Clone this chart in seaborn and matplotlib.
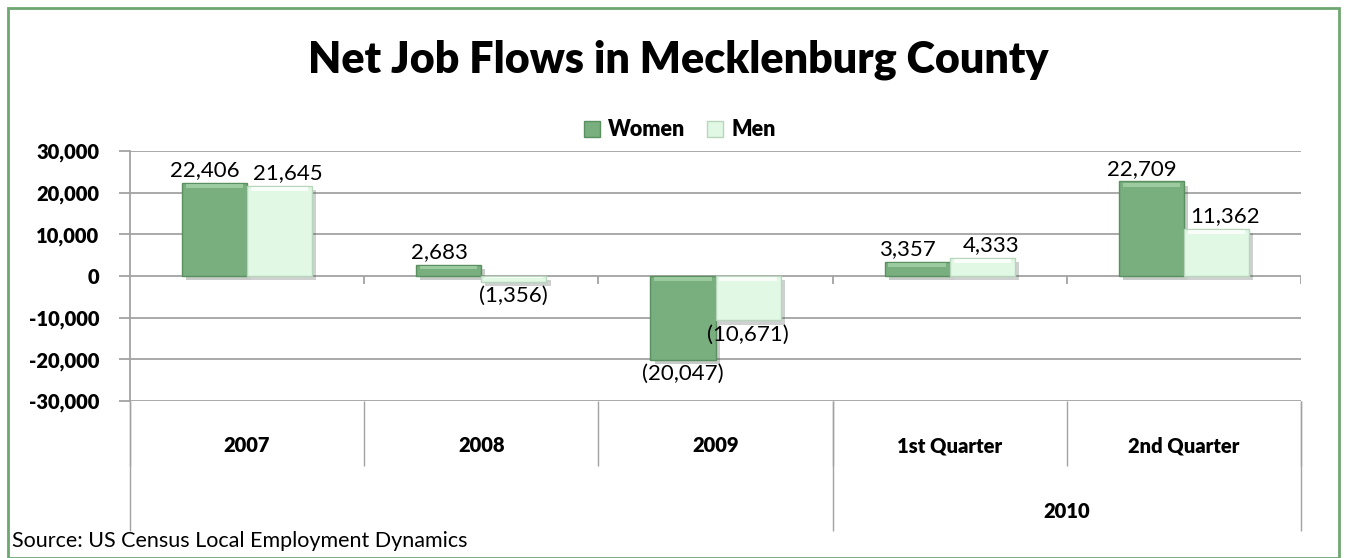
import matplotlib
matplotlib.use("Agg")
import matplotlib.pyplot as plt
import matplotlib.patheffects as pe
from matplotlib.patches import Rectangle
from matplotlib.ticker import FuncFormatter
import pandas as pd
import seaborn as sns

# ------------------------------------------------------------------
# Data
# ------------------------------------------------------------------
periods = ["2007", "2008", "2009", "1st Quarter", "2nd Quarter"]
women = [22406, 2683, -20047, 3357, 22709]
men = [21645, -1356, -10671, 4333, 11362]
series_names = ["Women", "Men"]
group_label = "2010"
group_members = ["1st Quarter", "2nd Quarter"]
y_ticks = [-30000, -20000, -10000, 0, 10000, 20000, 30000]

title = "Net Job Flows in Mecklenburg County"
source = "Source: US Census Local Employment Dynamics"

df = pd.DataFrame({
    "Period": periods * 2,
    "Gender": ["Women"] * len(periods) + ["Men"] * len(periods),
    "Flow": women + men,
})

colors = {"Women": "#79ae7e", "Men": "#e0f8e4"}
edges = {"Women": "#5a8f60", "Men": "#b8d6bc"}
highlights = {"Women": "#a6d3a9", "Men": "#ffffff"}
# small sideways nudge for positive labels so neighbours don't collide
nudge = {"Women": -7, "Men": 6}

sns.set_theme(style="white")
plt.rcParams["font.family"] = ["Lato", "DejaVu Sans"]
plt.rcParams["text.color"] = "black"
plt.rcParams["ytick.color"] = "black"

W, H = 1347, 558
fig = plt.figure(figsize=(W / 100, H / 100), dpi=100)
fig.patch.set_facecolor("white")
ax = fig.add_axes([130 / W, 1 - 401 / H, (1301 - 130) / W, 250 / H])

sns.barplot(data=df, x="Period", y="Flow", hue="Gender", order=periods,
            hue_order=series_names, palette=colors, width=0.556,
            saturation=1, errorbar=None, ax=ax)
if ax.get_legend() is not None:
    ax.get_legend().remove()

ax.set_xlim(-0.5, len(periods) - 0.5)
ax.set_ylim(y_ticks[0], y_ticks[-1])

# ------------------------------------------------------------------
# Bar styling + data labels
# ------------------------------------------------------------------
band = 1300
for cont, name in zip(ax.containers, series_names):
    vals = df[df["Gender"] == name].set_index("Period").loc[periods, "Flow"].values
    for bar, v in zip(cont, vals):
        bar.set_edgecolor(edges[name])
        bar.set_linewidth(1.0)
        bar.set_path_effects([pe.SimplePatchShadow(offset=(3, -3), alpha=0.25),
                              pe.Normal()])
        x0, w = bar.get_x(), bar.get_width()
        top = max(v, 0)
        bh = min(band, abs(v) * 0.4)
        ax.add_patch(Rectangle((x0 + w * 0.06, top - bh), w * 0.88, bh * 0.75,
                               facecolor=highlights[name], edgecolor="none",
                               alpha=0.8, zorder=bar.get_zorder() + 0.1))
        xc = x0 + w / 2
        if v >= 0:
            ax.annotate(f"{v:,}", (xc, v), xytext=(nudge[name], 2), textcoords="offset points",
                        ha="center", va="bottom", fontsize=16, color="black")
        else:
            ax.annotate(f"({-v:,})", (xc, v), xytext=(0, -3), textcoords="offset points",
                        ha="center", va="top", fontsize=16, color="black")

# ------------------------------------------------------------------
# Axes, grid, ticks
# ------------------------------------------------------------------
grid_c = "#a3a3a3"
ax.set_yticks(y_ticks)
ax.yaxis.set_major_formatter(FuncFormatter(lambda v, p: f"{int(v):,}"))
ax.yaxis.grid(True, color=grid_c, linewidth=1.3)
ax.set_axisbelow(True)
for s in ["top", "right", "bottom"]:
    ax.spines[s].set_visible(False)
ax.spines["left"].set_color(grid_c)
ax.spines["left"].set_linewidth(1.3)
ax.tick_params(axis="y", left=True, length=8, width=1.3, color=grid_c,
               labelcolor="black", labelsize=14.5, pad=14)
for lab in ax.get_yticklabels():
    lab.set_fontweight("heavy")
ax.set_xticks([])
ax.set_xlabel("")
ax.set_ylabel("")

bounds = [i - 0.5 for i in range(len(periods) + 1)]
ax.vlines(bounds[1:], -1900, 0, color=grid_c, linewidth=1.3)

xt = ax.get_xaxis_transform()
ax.vlines(bounds, -0.26, 0, color=grid_c, linewidth=1.0, transform=xt, clip_on=False)
g0 = periods.index(group_members[0]) - 0.5
g1 = periods.index(group_members[-1]) + 0.5
ax.vlines([bounds[0], g0, g1], -0.52, 0, color=grid_c, linewidth=1.0,
          transform=xt, clip_on=False)
for i, p in enumerate(periods):
    ax.text(i, -0.18, p, transform=xt, ha="center", va="center",
            fontsize=14.5, fontweight="heavy")
ax.text((g0 + g1) / 2, -0.44, group_label, transform=xt, ha="center", va="center",
        fontsize=14.5, fontweight="heavy")

# ------------------------------------------------------------------
# Legend, title, source, border
# ------------------------------------------------------------------
handles = [Rectangle((0, 0), 1, 1, facecolor=colors[n], edgecolor=edges[n]) for n in series_names]
fig.legend(handles, series_names, loc="center", bbox_to_anchor=(680 / W, 1 - 130 / H),
           ncol=2, frameon=False, prop={"weight": "heavy", "size": 15.5},
           handlelength=0.75, handleheight=0.75, handletextpad=0.4, columnspacing=1.0)

fig.text(678 / W, 1 - 60 / H, title, ha="center", va="center", fontsize=31, fontweight="heavy")
fig.text(12 / W, 1 - 541 / H, source, ha="left", va="center", fontsize=15.5)

fig.patches.append(Rectangle((8 / W, 0.5 / H), 1 - 16 / W, 1 - 8.5 / H,
                             transform=fig.transFigure, fill=False,
                             edgecolor="#6fa770", linewidth=2))

fig.savefig("out.png", dpi=100)
